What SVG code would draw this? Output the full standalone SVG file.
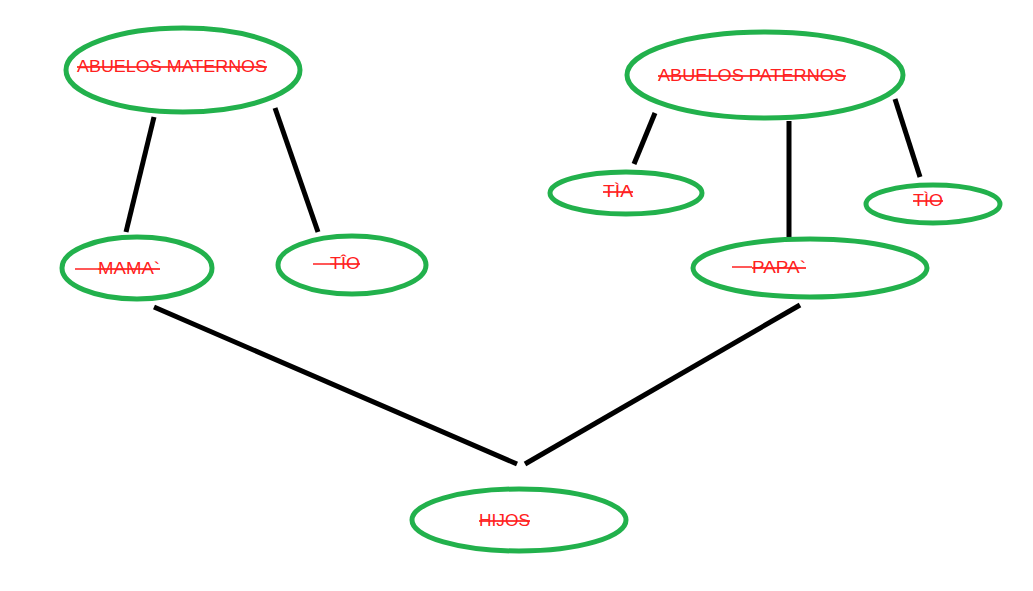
<svg xmlns="http://www.w3.org/2000/svg" width="1033" height="591" viewBox="0 0 1033 591">
<style>
.n{fill:#fff;stroke:#22b14c;stroke-width:5}
.t{font-family:"Liberation Sans",Arial,sans-serif;font-size:17px;fill:#ff2020;text-decoration:line-through}
.s{stroke:#ff2020;stroke-width:1.5}
#connectors line{stroke:#000;stroke-width:5}
</style>
<rect width="1033" height="591" fill="#fff"/>
<g id="connectors">
<line x1="154" y1="117" x2="126" y2="232"/>
<line x1="275" y1="108" x2="318" y2="232"/>
<line x1="655" y1="113" x2="634" y2="164"/>
<line x1="789" y1="121" x2="789" y2="238"/>
<line x1="895" y1="99" x2="920" y2="177"/>
<line x1="154" y1="307" x2="517" y2="464"/>
<line x1="800" y1="305" x2="525" y2="464"/>
</g>
<g id="abuelos-maternos">
<ellipse class="n" cx="183" cy="70" rx="117" ry="42"/>
<text class="t" x="77" y="72" textLength="190" lengthAdjust="spacingAndGlyphs">ABUELOS MATERNOS</text>
</g>
<g id="abuelos-paternos">
<ellipse class="n" cx="765" cy="75" rx="138" ry="43"/>
<text class="t" x="658" y="81" textLength="188" lengthAdjust="spacingAndGlyphs">ABUELOS PATERNOS</text>
</g>
<g id="tia">
<ellipse class="n" cx="626" cy="193" rx="76" ry="21"/>
<text class="t" x="603" y="197" textLength="30" lengthAdjust="spacingAndGlyphs">TÌA</text>
</g>
<g id="tio-paterno">
<ellipse class="n" cx="933" cy="204" rx="67" ry="19"/>
<text class="t" x="913" y="206" textLength="30" lengthAdjust="spacingAndGlyphs">TÌO</text>
</g>
<g id="mama">
<ellipse class="n" cx="137" cy="268" rx="75" ry="31"/>
<line class="s" x1="75" y1="269" x2="98" y2="269"/>
<text class="t" x="98" y="274" textLength="62" lengthAdjust="spacingAndGlyphs">MAMA`</text>
</g>
<g id="tio-materno">
<ellipse class="n" cx="352" cy="265" rx="74" ry="29"/>
<line class="s" x1="313" y1="264" x2="330" y2="264"/>
<text class="t" x="330" y="269" textLength="30" lengthAdjust="spacingAndGlyphs">TÎO</text>
</g>
<g id="papa">
<ellipse class="n" cx="810" cy="268" rx="117" ry="29"/>
<line class="s" x1="732" y1="267" x2="752" y2="267"/>
<text class="t" x="752" y="273" textLength="54" lengthAdjust="spacingAndGlyphs">PAPA`</text>
</g>
<g id="hijos">
<ellipse class="n" cx="519" cy="520" rx="107" ry="31"/>
<text class="t" x="479" y="526" textLength="51" lengthAdjust="spacingAndGlyphs">HIJOS</text>
</g>
</svg>
